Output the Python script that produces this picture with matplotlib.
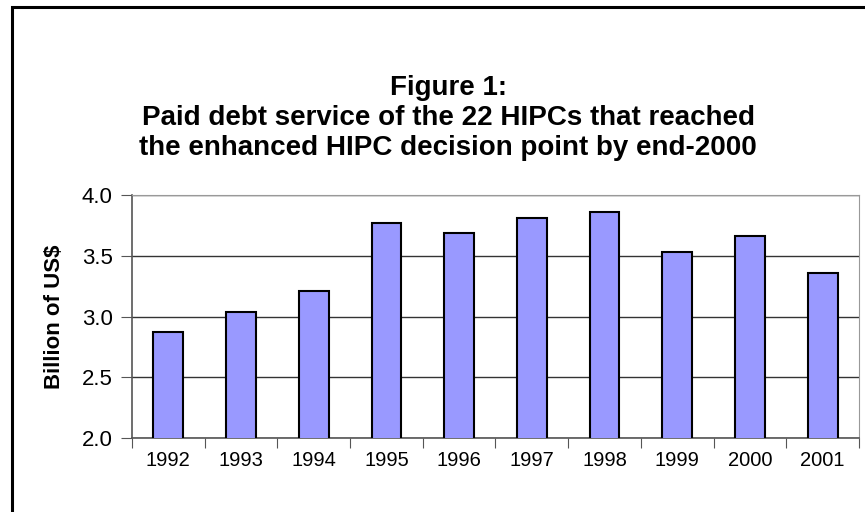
import numpy as np
import matplotlib.pyplot as plt
from matplotlib.patches import Rectangle

plt.rcParams['font.family'] = ['Liberation Sans', 'DejaVu Sans']

# data
years = ['1992', '1993', '1994', '1995', '1996', '1997', '1998', '1999', '2000', '2001']
debt_service = [2.87, 3.04, 3.21, 3.77, 3.69, 3.81, 3.86, 3.53, 3.66, 3.36]
yticks = [2.0, 2.5, 3.0, 3.5, 4.0]

fig = plt.figure(figsize=(8.65, 5.12), dpi=100)
ax = fig.add_axes([0.1526, 0.1445, 0.8404, 0.4745])

x = np.arange(len(years))
ax.bar(x, debt_service, width=0.41, color='#9999FF', edgecolor='black', linewidth=1.5, zorder=3)

ax.set_xlim(-0.5, len(years) - 0.5)
ax.set_ylim(2.0, 4.0)
ax.set_yticks(yticks)
ax.set_yticklabels(['%.1f' % v for v in yticks])
ax.yaxis.grid(True, color='#333333', linewidth=1.0, zorder=0)

# ticks between categories, labels centred under bars
ax.set_xticks(np.arange(len(years) + 1) - 0.5)
ax.set_xticklabels([])
ax.set_xticks(x, minor=True)
ax.set_xticklabels(years, minor=True)
ax.tick_params(axis='x', which='major', direction='out', length=7, color='#555555')
ax.tick_params(axis='x', which='minor', length=0, labelsize=14.5, pad=9)
ax.tick_params(axis='y', direction='out', length=8, color='#555555', labelsize=16, pad=6)

for s in ['top', 'right']:
    ax.spines[s].set_color('#999999')
for s in ['left', 'bottom']:
    ax.spines[s].set_color('#555555')
    ax.spines[s].set_linewidth(1.2)

ax.set_ylabel('Billion of US$', fontsize=16, fontweight='bold', labelpad=12)

fig.text(0.518, 0.769, 'Figure 1:\nPaid debt service of the 22 HIPCs that reached\nthe enhanced HIPC decision point by end-2000',
         ha='center', va='center', fontsize=20, fontweight='bold', linespacing=1.2)

# outer chart frame (only top/left visible in the picture)
fig.patches.append(Rectangle((12 / 865, -0.05), 1.1, (512 - 7) / 512 + 0.05, transform=fig.transFigure,
                             fill=False, edgecolor='black', linewidth=2.2))

fig.savefig('out.png', dpi=100)
